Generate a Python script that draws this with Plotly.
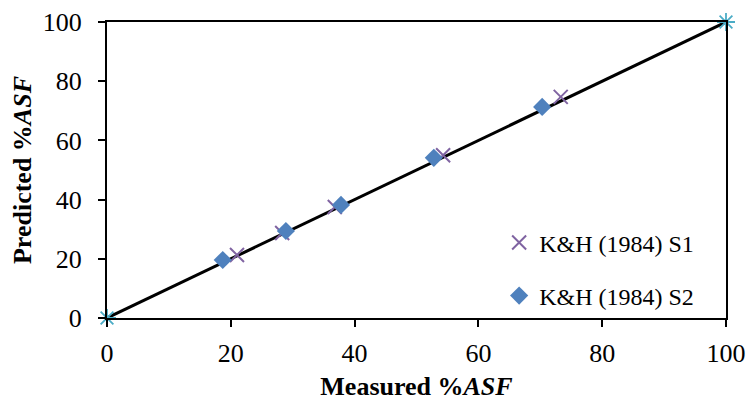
import plotly.graph_objects as go

# Data
s1_measured = [21.0, 28.3, 36.8, 54.3, 73.3]
s1_predicted = [21.3, 28.7, 37.5, 55.0, 74.7]
s2_measured = [18.7, 28.9, 37.8, 52.8, 70.3]
s2_predicted = [19.6, 29.4, 38.2, 54.1, 71.3]
line_x = [0, 100]
line_y = [0, 100]
tick_vals = [0, 20, 40, 60, 80, 100]

FONT = "Liberation Serif"

fig = go.Figure()
fig.add_trace(go.Scatter(
    x=line_x, y=line_y, mode="lines+markers", showlegend=False,
    line=dict(color="black", width=3),
    marker=dict(symbol="asterisk-open", size=15, color="#4BACC6",
                line=dict(color="#4BACC6", width=1.8)),
    cliponaxis=False,
))
fig.add_trace(go.Scatter(
    x=s1_measured, y=s1_predicted, mode="markers", name="K&H (1984) S1",
    legendgroup="a",
    marker=dict(symbol="x-thin-open", size=14, color="#8064A2",
                line=dict(color="#8064A2", width=2)),
))
fig.add_trace(go.Scatter(
    x=s2_measured, y=s2_predicted, mode="markers", name="K&H (1984) S2",
    legendgroup="b",
    marker=dict(symbol="diamond", size=14, color="#4F81BD"),
))

axis_common = dict(
    range=[0, 100], tickvals=tick_vals, showgrid=False, zeroline=False,
    showline=True, linecolor="black", linewidth=2, mirror=True,
    ticks="outside", ticklen=7, tickwidth=1.5, tickcolor="black",
    tickfont=dict(family=FONT, size=26, color="black"),
    automargin=False,
)
fig.update_xaxes(**axis_common, ticklabelstandoff=4,
                 title=dict(text="<b>Measured %<i>ASF</i></b>", standoff=12,
                            font=dict(family=FONT, size=26, color="black")))
fig.update_yaxes(**axis_common, ticklabelstandoff=11,
                 title=dict(text="<b>Predicted %<i>ASF</i></b>", standoff=4,
                            font=dict(family=FONT, size=26, color="black")))

fig.update_layout(
    width=748, height=401,
    margin=dict(l=107, r=22, t=22, b=83),
    plot_bgcolor="white", paper_bgcolor="white",
    font=dict(family=FONT),
    legend=dict(x=0.6335, y=0.33, xanchor="left", yanchor="top",
                bgcolor="rgba(0,0,0,0)", traceorder="grouped",
                tracegroupgap=19, itemwidth=30,
                font=dict(family=FONT, size=24, color="black")),
)

fig.write_html("out.html", config={"displayModeBar": False},
               post_script="document.body.style.margin='0';")
